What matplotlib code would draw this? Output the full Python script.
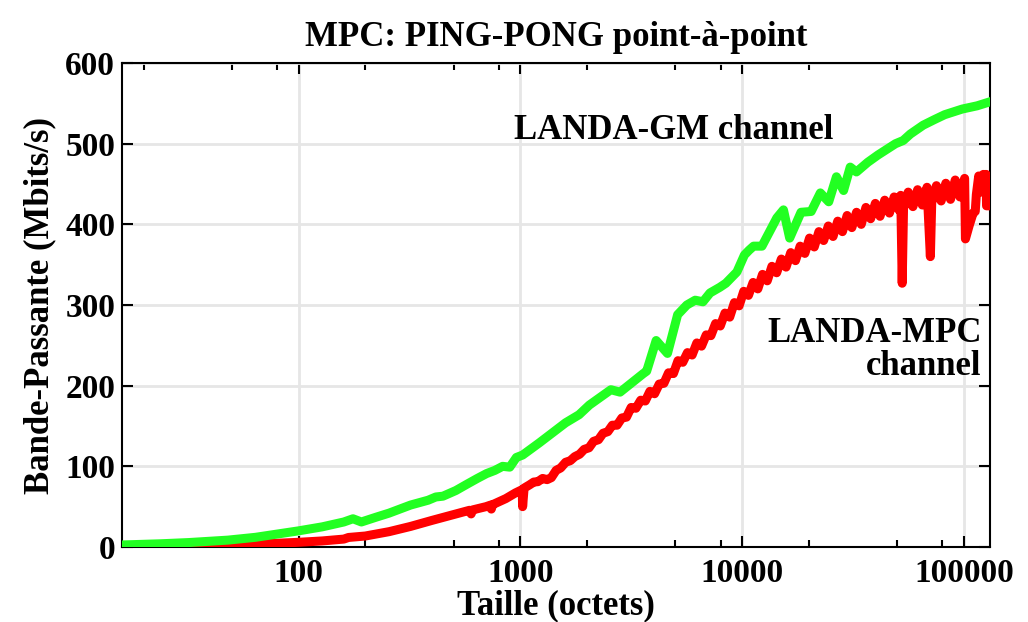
import matplotlib
matplotlib.use('Agg')
import matplotlib.pyplot as plt
import matplotlib.ticker as ticker

plt.rcParams.update({
    'font.family': 'serif',
    'font.serif': ['Liberation Serif', 'DejaVu Serif'],
    'font.weight': 'bold',
    'axes.linewidth': 1.5,
})

TITLE = 'MPC: PING-PONG point-à-point'
XLABEL = 'Taille (octets)'
YLABEL = 'Bande-Passante (Mbits/s)'
LABEL_GM = 'LANDA-GM channel'
LABEL_MPC = 'LANDA-MPC\nchannel'

# LANDA-GM channel (taille en octets, Mbits/s)
gm_size = [16, 24, 32, 48, 64, 80, 100, 128, 160, 176, 192, 224, 256, 320, 384,
           416, 448, 512, 576, 640, 704, 768, 832, 896, 960, 1024, 1216, 1600,
           1840, 2048, 2560, 2816, 3584, 3712, 4096, 4608, 5120, 5632, 6144,
           6656, 7168, 7936, 8448, 9472, 10240, 10752, 11264, 12288, 14336,
           15360, 16384, 18432, 20480, 22528, 24576, 26624, 28672, 30720,
           32768, 36864, 40960, 49152, 53248, 57344, 65536, 73728, 81920,
           98304, 114688, 131072]
gm_bw = [2.5, 4, 5.5, 8.5, 12, 16, 20, 25, 31, 35, 31, 37, 42, 52, 58,
         62, 63, 70, 78, 85, 91, 95, 100, 99, 111, 114, 129, 154,
         164, 176, 195, 192, 215, 218, 256, 240, 288, 300, 306,
         304, 315, 322, 327, 341, 362, 368, 373, 373, 408,
         418, 383, 415, 416, 439, 428, 459, 442, 471,
         465, 477, 486, 500, 504, 512, 523, 530, 536,
         543, 547, 552]

# LANDA-MPC channel (taille en octets, Mbits/s)
mpc_size = [16, 24, 32, 48, 64, 80, 100, 128, 160, 168, 200, 256, 320, 400, 512,
            590, 600, 610, 700, 735, 740, 750, 860, 950, 1000, 1020, 1024, 1040,
            1100, 1150, 1200, 1260, 1320, 1380, 1450, 1520, 1600, 1680, 1760,
            1850, 1940, 2040, 2140, 2250, 2360, 2480, 2600, 2730, 2870, 3010,
            3160, 3320, 3490, 3660, 3840, 4030, 4230, 4440, 4660, 4900, 5140,
            5400, 5670, 5950, 6250, 6560, 6890, 7230, 7590, 7970, 8370, 8790,
            9230, 9690, 10170, 10680, 11210, 11770, 12360, 12980, 13630, 14310,
            15030, 15780, 16570, 17400, 18270, 19180, 20140, 21150, 22200,
            23310, 24480, 25700, 26990, 28340, 29750, 31240, 32800, 34440,
            36160, 37970, 39870, 41860, 43960, 46150, 48460, 50880, 51900,
            52700, 53430, 56100, 58900, 61850, 64940, 68190, 70600, 71600,
            75180, 78940, 82880, 87030, 91380, 95950, 100750, 101600, 105500,
            110000, 112500, 113800, 116620, 120000, 122450, 125000, 126000,
            126500, 131072]
mpc_bw = [1, 1.4, 1.9, 2.8, 3.7, 4.6, 5.8, 7.5, 9.8, 11.8, 13.6, 19, 25.5, 33, 41,
          45.5, 41, 46, 50, 52, 47, 52.5, 60, 67, 70, 71, 50, 73,
          77, 80.5, 81, 85, 83.5, 86, 95, 98, 105, 107, 112,
          115, 121, 123, 131, 133, 141, 143, 151, 151, 160, 161,
          173, 172, 182, 181, 193, 190, 202, 203, 216, 215, 231,
          229, 241, 238, 253, 249, 263, 262, 277, 274, 290, 285,
          303, 299, 317, 312, 328, 320, 338, 330, 348, 340,
          357, 347, 365, 355, 373, 364, 383, 372, 391,
          380, 398, 385, 404, 391, 411, 396, 415, 400,
          421, 407, 426, 410, 430, 414, 434, 418, 436,
          327, 420, 440, 422, 443, 424, 446, 360, 427,
          448, 429, 451, 431, 455, 434, 457, 382, 398,
          414, 416, 437, 460, 440, 462, 444, 462,
          423, 423]

fig = plt.figure(figsize=(10.28, 6.22), dpi=100)
ax = fig.add_axes([0.1187, 0.1206, 0.8443, 0.778])

ax.plot(mpc_size, mpc_bw, color='#ff0000', linewidth=6.5, zorder=3)
ax.plot(gm_size, gm_bw, color='#22ff22', linewidth=6.5, zorder=4)

ax.set_xscale('log')
ax.set_xlim(16, 131072)
ax.set_ylim(0, 600)
ax.xaxis.set_major_locator(ticker.FixedLocator([100, 1000, 10000, 100000]))
ax.xaxis.set_major_formatter(ticker.FuncFormatter(lambda x, _: f'{x:.0f}'))
ax.xaxis.set_minor_locator(ticker.LogLocator(base=10, subs=(2, 5, 8)))
ax.xaxis.set_minor_formatter(ticker.NullFormatter())
ax.yaxis.set_major_locator(ticker.MultipleLocator(100))

ax.tick_params(which='both', direction='in', top=True, right=True,
               labelsize=24, width=1.5)
ax.tick_params(which='major', length=8)
ax.tick_params(axis='x', which='major', pad=8)
ax.tick_params(axis='y', which='major', pad=5)
ax.tick_params(which='minor', length=5)
for lab in ax.get_xticklabels() + ax.get_yticklabels():
    lab.set_fontweight('bold')

ax.grid(True, which='major', color='#e6e6e6', linewidth=2, zorder=0)
ax.set_axisbelow(True)

ax.set_title(TITLE, fontsize=25, fontweight='bold', pad=12)
ax.set_xlabel(XLABEL, fontsize=25, fontweight='bold', labelpad=0)
ax.set_ylabel(YLABEL, fontsize=25, fontweight='bold', labelpad=6)

ax.text(4930, 517, LABEL_GM, fontsize=25, fontweight='bold',
        ha='center', va='center')
ax.text(120000, 244, LABEL_MPC, fontsize=25, fontweight='bold',
        ha='right', va='center', multialignment='right', linespacing=1.0)

fig.savefig('out.png', dpi=100)
